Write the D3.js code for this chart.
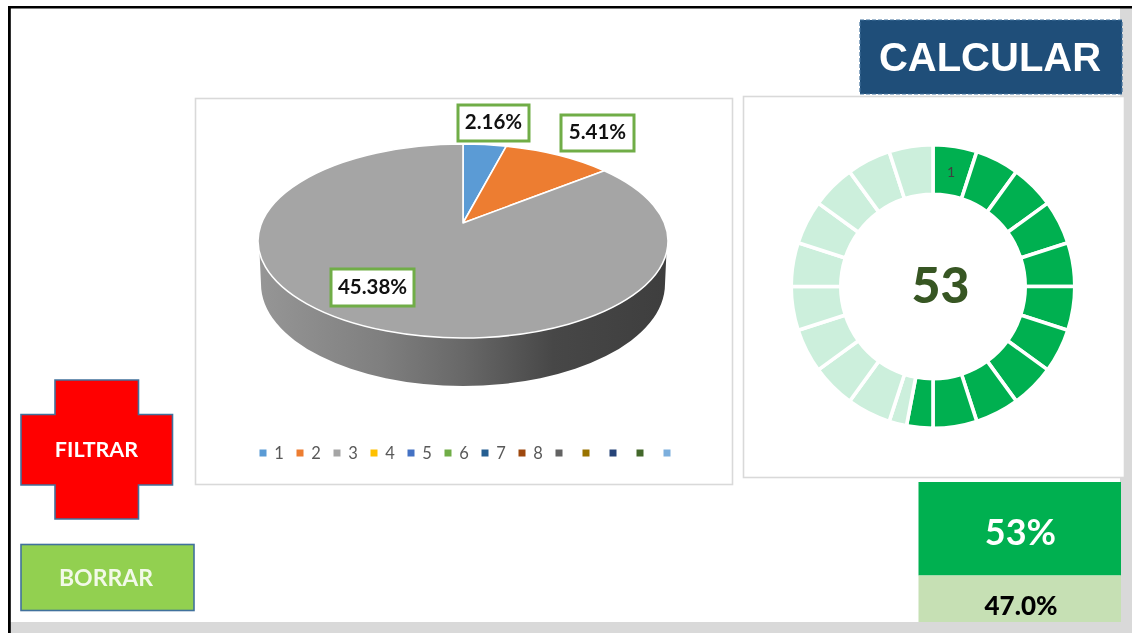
<!DOCTYPE html>
<html>
<head>
<meta charset="utf-8">
<script src="https://cdn.jsdelivr.net/npm/d3@7"></script>
<style>
  html, body { margin: 0; padding: 0; background: #fff; overflow: hidden; }
  svg { display: block; filter: blur(0.7px); }
</style>
</head>
<body>
<svg width="1132" height="633"></svg>
<script>
const width = 1132
const height = 633

// pie data
const categories = ['1', '2', '3', '4', '5', '6', '7', '8', '', '', '', '', '']
const pieValues = [2.16, 5.41, 45.38, 0, 0, 0, 0, 0, 0, 0, 0, 0, 0]
const pieColors = ['#5b9bd5', '#ed7d31', '#a5a5a5', '#ffc000', '#4472c4', '#70ad47', '#255e91', '#9e480e', '#636363', '#997300', '#264478', '#43682b', '#7cafdd']

// gauge data, 20 ticks of 5%, the 11th one is split at 53%
const ringValues = [5, 5, 5, 5, 5, 5, 5, 5, 5, 5, 3, 2, 5, 5, 5, 5, 5, 5, 5, 5, 5]
const ringDone = [1, 1, 1, 1, 1, 1, 1, 1, 1, 1, 1, 0, 0, 0, 0, 0, 0, 0, 0, 0, 0]
const gaugeValue = 53

const svg = d3.select('svg')
const font = 'Lato, Carlito, sans-serif'

// page background and frame
svg.append('rect').attr('x', 9).attr('y', 7).attr('width', width).attr('height', height).attr('fill', '#d9d9d9')
svg.append('rect').attr('x', 10).attr('y', 8).attr('width', 1110).attr('height', 614).attr('fill', '#fff')
svg.append('rect').attr('x', 1119).attr('y', 96).attr('width', 6).attr('height', 382).attr('fill', '#fff')
svg.append('rect').attr('x', 8).attr('y', 6).attr('width', width).attr('height', 2.5).attr('fill', '#000')
svg.append('rect').attr('x', 8).attr('y', 6).attr('width', 2.8).attr('height', height).attr('fill', '#000')

// panels
const panel = (x, y, w, h) => svg.append('rect').attr('x', x).attr('y', y).attr('width', w).attr('height', h)
  .attr('fill', '#fff').attr('stroke', '#d9d9d9').attr('stroke-width', 1.6)
panel(195.5, 98.5, 537, 386)
panel(743.5, 96.5, 381, 381)

// ---- 3D pie
const xScale = d3.scaleLinear().domain([-1, 1]).range([258, 668])
const yScale = d3.scaleLinear().domain([-1, 1]).range([338, 144])
const rx = (xScale(1) - xScale(-1)) / 2
const ry = (yScale(-1) - yScale(1)) / 2
const depth = 43

// the tilted view pushes the pie centre up the ellipse
const tilt = (yScale(0) - 223) / ry
const project = function (a) {
  const u = Math.sin(a), v = Math.cos(a)
  const k = 1 + tilt * v
  return [Math.sqrt(1 - tilt * tilt) * u / k, (v + tilt) / k]
}

const defs = svg.append('defs')
const wallGrad = defs.append('linearGradient').attr('id', 'wall')
  .attr('gradientUnits', 'userSpaceOnUse').attr('x1', xScale(-1)).attr('x2', xScale(1)).attr('y1', 0).attr('y2', 0)
wallGrad.selectAll('stop').data([[0, '#969696'], [0.3, '#7f7f7f'], [0.5, '#686868'], [0.72, '#474747'], [1, '#3e3e3e']])
  .enter().append('stop').attr('offset', d => d[0]).attr('stop-color', d => d[1])

const wallPath = d3.path()
wallPath.moveTo(xScale(-1) + 1, yScale(0))
wallPath.lineTo(xScale(-1) + 3, yScale(0) + depth)
const wallEnd = xScale(1) - 3
const wallD = wallPath.toString() +
  `A${rx - 3},${ry + 5} 0 0 0 ${wallEnd},${yScale(0) + depth}L${xScale(1) - 1},${yScale(0)}Z`
svg.append('path').attr('d', wallD).attr('fill', 'url(#wall)')

const pie = d3.pie().sort(null)
const slices = pie(pieValues).filter(d => d.value > 0)

const slicePath = function (d) {
  const p0 = project(d.startAngle), p1 = project(d.endAngle)
  const t0 = Math.atan2(p0[0], p0[1])
  let t1 = Math.atan2(p1[0], p1[1])
  if (t1 <= t0) t1 += 2 * Math.PI
  const large = t1 - t0 > Math.PI ? 1 : 0
  return `M${xScale(0)},${yScale(tilt)}L${xScale(p0[0])},${yScale(p0[1])}` +
    `A${rx},${ry} 0 ${large} 1 ${xScale(p1[0])},${yScale(p1[1])}Z`
}

svg.append('g').selectAll('path').data(slices).enter().append('path')
  .attr('d', slicePath)
  .attr('fill', d => pieColors[d.index])
  .attr('stroke', '#fff').attr('stroke-width', 1.6).attr('stroke-linejoin', 'round')

// data labels
const labelBoxes = [[458, 105, 71, 36], [561, 115, 73, 36], [331, 269, 83, 37]]
const labels = svg.append('g').selectAll('g').data(pieValues.slice(0, 3)).enter().append('g')
labels.append('rect')
  .attr('x', (d, i) => labelBoxes[i][0]).attr('y', (d, i) => labelBoxes[i][1])
  .attr('width', (d, i) => labelBoxes[i][2]).attr('height', (d, i) => labelBoxes[i][3])
  .attr('fill', '#fff').attr('stroke', '#70ad47').attr('stroke-width', 3)
labels.append('text')
  .attr('x', (d, i) => labelBoxes[i][0] + labelBoxes[i][2] / 2)
  .attr('y', (d, i) => labelBoxes[i][1] + labelBoxes[i][3] / 2 - 1)
  .attr('dy', '0.36em').attr('text-anchor', 'middle')
  .attr('font-family', font).attr('font-weight', 700).attr('font-size', 20.5).attr('fill', '#111')
  .text(d => d.toFixed(2) + '%')

// legend, entries without a name take less room
const legendX = [0, ...d3.cumsum(categories.map(c => c ? 37 : 27))].map(v => v + 263)
const legend = svg.append('g').selectAll('g').data(categories).enter().append('g')
  .attr('transform', (d, i) => `translate(${legendX[i]},453)`)
legend.append('rect').attr('x', -3.5).attr('y', -3.5).attr('width', 7).attr('height', 7)
  .attr('fill', (d, i) => pieColors[i])
legend.append('text').attr('x', 16).attr('dy', '0.36em').attr('text-anchor', 'middle')
  .attr('font-family', font).attr('font-size', 16.5).attr('fill', '#595959')
  .text(d => d)

// ---- gauge ring
const ringCx = 933, ringCy = 286.5
const ringArc = d3.arc().innerRadius(92.2).outerRadius(141.8)
const ring = svg.append('g').attr('transform', `translate(${ringCx},${ringCy})`)
ring.selectAll('path').data(d3.pie().sort(null)(ringValues)).enter().append('path')
  .attr('d', ringArc)
  .attr('fill', (d, i) => ringDone[i] ? '#00b050' : '#ccefdc')
  .attr('stroke', '#fff').attr('stroke-width', 3.6)
ring.append('text').attr('x', 18).attr('y', -115).attr('dy', '0.36em').attr('text-anchor', 'middle')
  .attr('font-family', font).attr('font-size', 14).attr('fill', '#404040').text('1')
svg.append('text').attr('x', 940.5).attr('y', 285).attr('dy', '0.36em').attr('text-anchor', 'middle')
  .attr('font-family', font).attr('font-weight', 900).attr('font-size', 50).attr('fill', '#375623')
  .text(gaugeValue)

// ---- buttons
svg.append('rect').attr('x', 860).attr('y', 20).attr('width', 262).attr('height', 74)
  .attr('fill', '#1f4e79').attr('stroke', '#41719c').attr('stroke-width', 1.2).attr('stroke-dasharray', '4 2')
svg.append('text').attr('x', 990).attr('y', 57).attr('dy', '0.36em').attr('text-anchor', 'middle')
  .attr('font-family', 'Liberation Sans, Arial, sans-serif').attr('font-weight', 700).attr('font-size', 40).attr('fill', '#fff')
  .text('CALCULAR')

const cross = d3.path()
cross.moveTo(55, 380); cross.lineTo(138.5, 380); cross.lineTo(138.5, 414.5); cross.lineTo(172.5, 414.5)
cross.lineTo(172.5, 485); cross.lineTo(138.5, 485); cross.lineTo(138.5, 519); cross.lineTo(55, 519)
cross.lineTo(55, 485); cross.lineTo(21, 485); cross.lineTo(21, 414.5); cross.lineTo(55, 414.5); cross.closePath()
svg.append('path').attr('d', cross.toString()).attr('fill', '#ff0000').attr('stroke', '#41719c').attr('stroke-width', 1.6)
svg.append('text').attr('x', 96.5).attr('y', 449).attr('dy', '0.36em').attr('text-anchor', 'middle')
  .attr('font-family', font).attr('font-weight', 700).attr('font-size', 21.5).attr('fill', '#fff').text('FILTRAR')

svg.append('rect').attr('x', 21).attr('y', 544.5).attr('width', 173).attr('height', 66)
  .attr('fill', '#92d050').attr('stroke', '#41719c').attr('stroke-width', 1.6)
svg.append('text').attr('x', 106).attr('y', 578).attr('dy', '0.36em').attr('text-anchor', 'middle')
  .attr('font-family', font).attr('font-weight', 700).attr('font-size', 23).attr('fill', '#f2f9e8').text('BORRAR')

// ---- percent cells
svg.append('rect').attr('x', 918.5).attr('y', 482).attr('width', 202.5).attr('height', 93.5).attr('fill', '#00b050')
svg.append('text').attr('x', 1020.5).attr('y', 532).attr('dy', '0.36em').attr('text-anchor', 'middle')
  .attr('font-family', font).attr('font-weight', 700).attr('font-size', 36).attr('fill', '#fff')
  .text(gaugeValue + '%')
svg.append('rect').attr('x', 918.5).attr('y', 575.5).attr('width', 202.5).attr('height', 46.5).attr('fill', '#c6e0b4')
svg.append('text').attr('x', 1021).attr('y', 606).attr('dy', '0.36em').attr('text-anchor', 'middle')
  .attr('font-family', font).attr('font-weight', 900).attr('font-size', 26).attr('fill', '#000')
  .text((100 - gaugeValue).toFixed(1) + '%')
</script>
</body>
</html>
